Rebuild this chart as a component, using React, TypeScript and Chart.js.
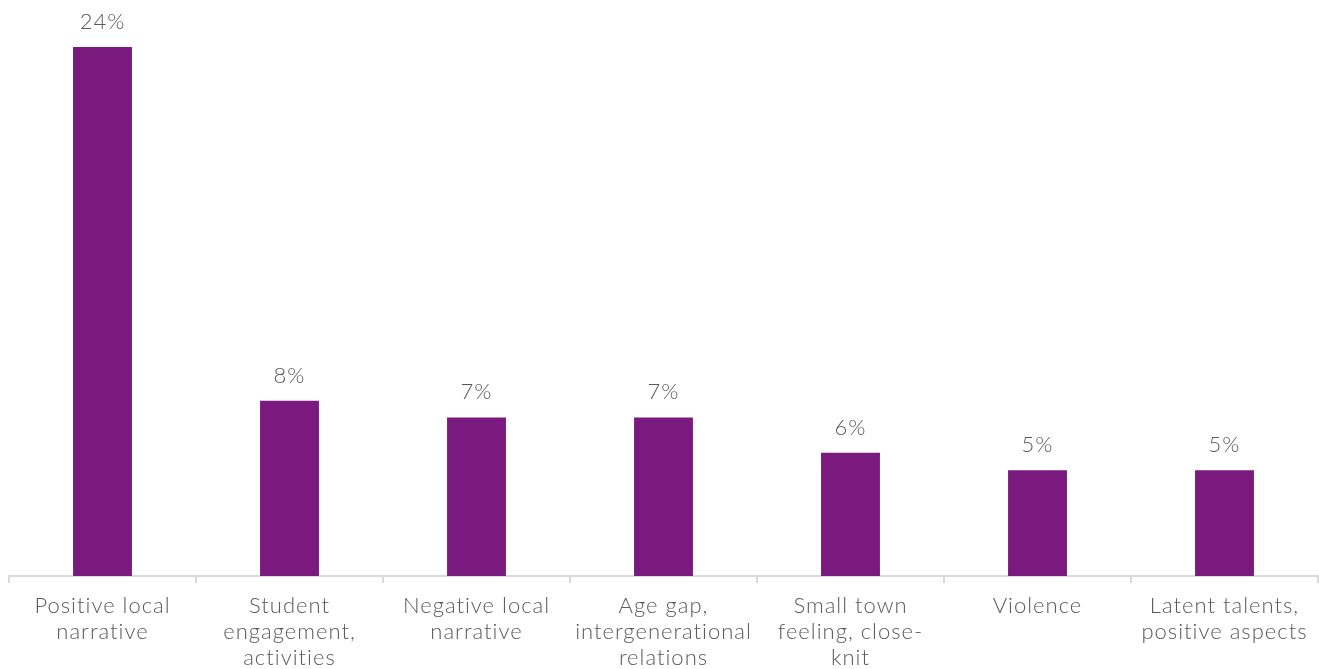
import React, { useEffect, useRef } from "react";
import { Chart, registerables } from "chart.js";

Chart.register(...registerables);

const categories: string[][] = [
  ["Positive local", "narrative"],
  ["Student", "engagement,", "activities"],
  ["Negative local", "narrative"],
  ["Age gap,", "intergenerational", "relations"],
  ["Small town", "feeling, close-", "knit"],
  ["Violence"],
  ["Latent talents,", "positive aspects"],
];
const values: number[] = [24, 7.95, 7.2, 7.2, 5.6, 4.8, 4.8];
const valueLabels: string[] = ["24%", "8%", "7%", "7%", "6%", "5%", "5%"];

const FONT = "Lato, 'Open Sans', sans-serif";
const TEXT = "#595959";

const spacingPlugin = {
  id: "spacing",
  beforeInit(chart: any) {
    chart.ctx.letterSpacing = "1px";
  },
  beforeDraw(chart: any) {
    chart.ctx.letterSpacing = "1px";
  },
};

const labelPlugin = {
  id: "valueLabels",
  afterDatasetsDraw(chart: any) {
    const ctx = chart.ctx;
    const meta = chart.getDatasetMeta(0);
    ctx.save();
    ctx.letterSpacing = "1px";
    ctx.font = `300 22px ${FONT}`;
    ctx.fillStyle = TEXT;
    ctx.textAlign = "center";
    ctx.textBaseline = "bottom";
    meta.data.forEach((bar: any, i: number) => {
      ctx.fillText(valueLabels[i], bar.x, bar.y - 14);
    });
    ctx.restore();
  },
};

export default function App() {
  const ref = useRef<HTMLCanvasElement | null>(null);
  useEffect(() => {
    if (!ref.current) return;
    const chart = new Chart(ref.current, {
      type: "bar",
      data: {
        labels: categories,
        datasets: [
          {
            data: values,
            backgroundColor: "#7B1A7E",
            barPercentage: 0.315,
            categoryPercentage: 1,
          },
        ],
      },
      options: {
        animation: false,
        responsive: false,
        maintainAspectRatio: false,
        layout: { padding: { top: 47, left: 9, right: 1, bottom: -12 } },
        plugins: { legend: { display: false }, tooltip: { enabled: false } },
        scales: {
          y: { display: false, min: 0, max: 24 },
          x: {
            grid: {
              drawOnChartArea: false,
              drawTicks: true,
              tickLength: 7,
              color: "#D9D9D9",
              lineWidth: 2,
              offset: true,
            },
            border: { color: "#D9D9D9", width: 2 },
            ticks: {
              color: TEXT,
              padding: 10,
              maxRotation: 0,
              autoSkip: false,
              font: { family: FONT, size: 22, weight: "300" as any, lineHeight: 1.18 },
            },
          },
        },
      },
      plugins: [spacingPlugin, labelPlugin],
    });
    return () => chart.destroy();
  }, []);
  return (
    <div style={{ position: "absolute", left: 0, top: 0, width: 1319, height: 669, background: "#fff" }}>
      <canvas ref={ref} width={1319} height={669} style={{ display: "block" }} />
    </div>
  );
}
